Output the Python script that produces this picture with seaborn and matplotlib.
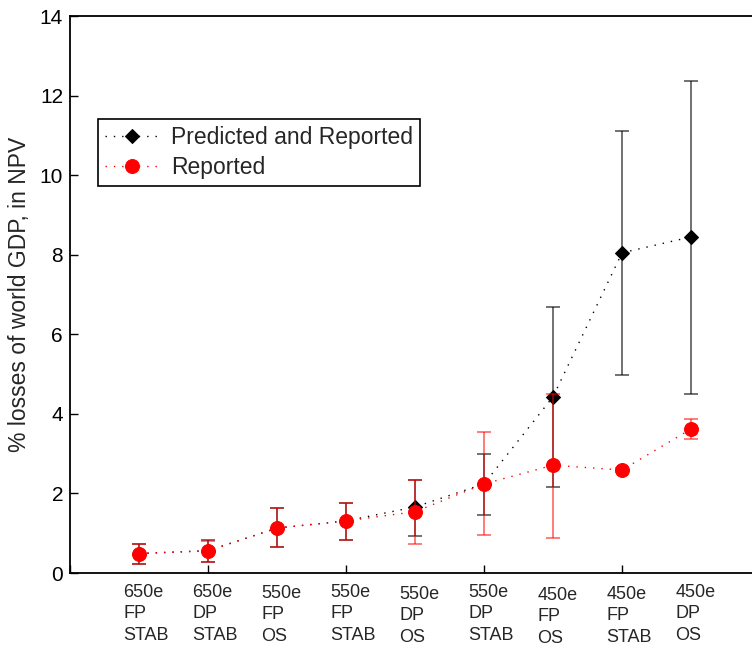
import numpy as np
import pandas as pd
import seaborn as sns
import matplotlib.pyplot as plt
import matplotlib.transforms as mtransforms

# scenario positions and labels
positions = [1, 2, 3, 4, 5, 6, 7, 8, 9]
scenarios = ["650e\nFP\nSTAB", "650e\nDP\nSTAB", "550e\nFP\nOS", "550e\nFP\nSTAB",
             "550e\nDP\nOS", "550e\nDP\nSTAB", "450e\nFP\nOS", "450e\nFP\nSTAB",
             "450e\nDP\nOS"]

# predicted and reported
pred = [0.49, 0.56, 1.13, 1.31, 1.66, 2.24, 4.43, 8.05, 8.45]
pred_lo = [0.23, 0.28, 0.65, 0.84, 0.93, 1.45, 2.17, 4.97, 4.50]
pred_hi = [0.74, 0.82, 1.63, 1.77, 2.35, 3.00, 6.69, 11.10, 12.37]

# reported only
rep = [0.49, 0.56, 1.13, 1.31, 1.54, 2.24, 2.71, 2.59, 3.62]
rep_lo = [0.23, 0.28, 0.65, 0.84, 0.74, 0.95, 0.89, 2.55, 3.37]
rep_hi = [0.74, 0.80, 1.63, 1.77, 2.35, 3.54, 4.50, 2.63, 3.88]

# small vertical stagger of the scenario labels (pixels)
label_shift = [0, 0, 1, 0, 2, 0, 3, 2, 0]

sns.set_theme(style="white")
plt.rcParams['font.family'] = ['Liberation Sans', 'DejaVu Sans']

df = pd.DataFrame({'pos': positions, 'pred': pred, 'rep': rep})

fig = plt.figure(figsize=(7.52, 6.46), dpi=100)
# axes run past the right edge of the figure, as in the original crop
ax = fig.add_axes([0.0931, 0.113, 1.0, 0.862])

dots = (0, (1, 5))

# error bars
ax.errorbar(df['pos'], df['pred'],
            yerr=[np.array(pred) - np.array(pred_lo), np.array(pred_hi) - np.array(pred)],
            fmt='none', ecolor='black', elinewidth=1.2, capsize=5, capthick=1.2,
            alpha=0.65, zorder=2)
sns.lineplot(data=df, x='pos', y='pred', ax=ax, color='black', marker='D',
             markersize=7.5, markeredgecolor='black', linestyle=dots, linewidth=1,
             label='Predicted and Reported', zorder=3)

ax.errorbar(df['pos'], df['rep'],
            yerr=[np.array(rep) - np.array(rep_lo), np.array(rep_hi) - np.array(rep)],
            fmt='none', ecolor='red', elinewidth=1.2, capsize=5, capthick=1.2,
            alpha=0.6, zorder=4)
sns.lineplot(data=df, x='pos', y='rep', ax=ax, color='red', marker='o',
             markersize=10, markeredgecolor='red', linestyle=dots, linewidth=1,
             label='Reported', zorder=5)

# keep 69 px per unit with the wider axes
ax.set_xlim(0, 10 / 0.9176)
ax.set_ylim(0, 14)
ax.set_xticks([0, 2, 4, 6, 8, 10])
ax.set_xticklabels([])
ax.set_yticks(np.arange(0, 15, 2))
ax.set_xlabel('')
ax.set_ylabel('% losses of world GDP, in NPV', fontsize=16.5, labelpad=6)
ax.tick_params(direction='in', length=6, width=1, labelsize=15, colors='black', pad=5)
ax.tick_params(axis='x', bottom=True)
ax.tick_params(axis='y', left=True)
for side in ['top', 'left', 'bottom']:
    ax.spines[side].set_color('black')
    ax.spines[side].set_linewidth(1.3)
ax.spines['right'].set_visible(False)

# scenario labels under each point
trans = mtransforms.blended_transform_factory(ax.transData, ax.transAxes)
for p, lab, s in zip(positions, scenarios, label_shift):
    ax.text(p - 0.23, -(11 + s) / 557, lab, transform=trans, ha='left', va='top',
            fontsize=13, linespacing=1.33, clip_on=False)

leg = ax.legend(loc='upper left', bbox_to_anchor=(0.0372, 0.815),
                fontsize=16.5, frameon=True, fancybox=False, edgecolor='black',
                framealpha=1, borderaxespad=0, handlelength=2.4, handletextpad=0.5,
                borderpad=0.3, labelspacing=0.3)
leg.get_frame().set_linewidth(1.2)

fig.savefig('out.png', dpi=100)
